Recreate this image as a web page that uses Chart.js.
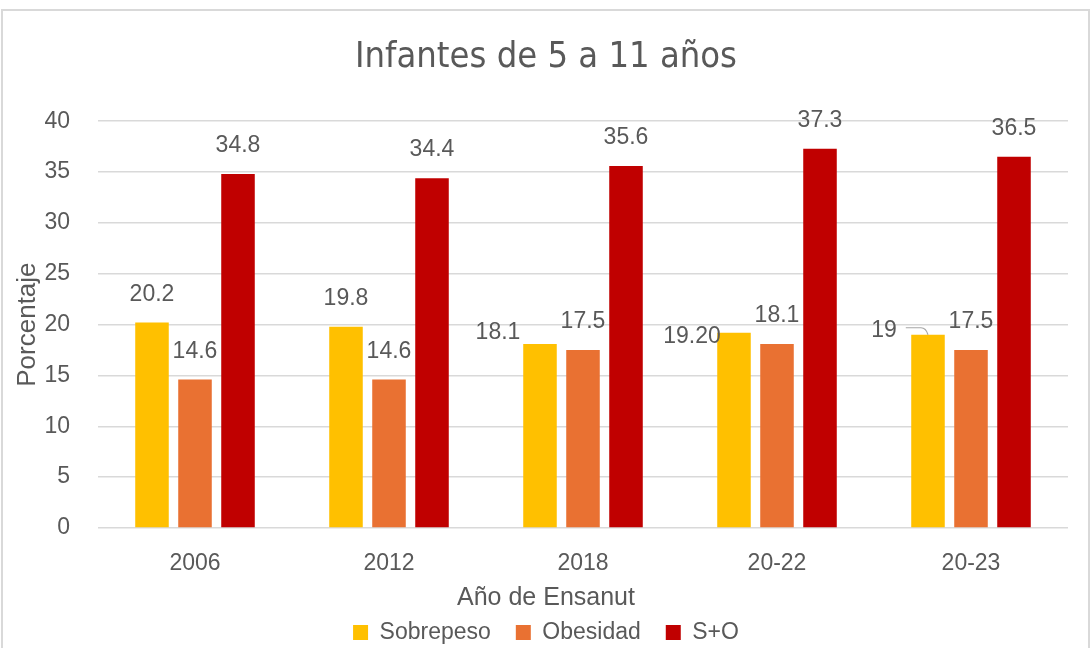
<!DOCTYPE html>
<html><head><meta charset="utf-8">
<script src="https://cdn.jsdelivr.net/npm/chart.js@4.4.1/dist/chart.umd.min.js"></script>
<style>
html,body{margin:0;padding:0;background:#fff;}
#wrap{position:relative;width:1092px;height:648px;overflow:hidden;}
#frame{position:absolute;left:1px;top:9px;width:1089px;height:660px;border:2px solid #d9d9d9;pointer-events:none;box-sizing:border-box;}
canvas{display:block;}
</style></head><body>
<div id="wrap"><canvas id="c" width="1092" height="648"></canvas><div id="frame"></div></div>
<script>
// ---- data ----
const categories = ['2006', '2012', '2018', '20-22', '20-23'];
const seriesNames = ['Sobrepeso', 'Obesidad', 'S+O'];
const sobrepeso = [20.2, 19.8, 18.1, 19.2, 19];
const obesidad = [14.6, 14.6, 17.5, 18.1, 17.5];
const sMasO = [34.8, 34.4, 35.6, 37.3, 36.5];
const sobrepesoLabels = ['20.2', '19.8', '18.1', '19.20', '19'];
const obesidadLabels = ['14.6', '14.6', '17.5', '18.1', '17.5'];
const sMasOLabels = ['34.8', '34.4', '35.6', '37.3', '36.5'];
const titleText = 'Infantes de 5 a 11 años';
const xTitleText = 'Año de Ensanut';
const yTitleText = 'Porcentaje';

// ---- styles ----
const TEXT = '#595959';
const GRID = '#d9d9d9';
const FONT = '"Liberation Sans", Arial, sans-serif';
const colors = ['#FFC000', '#E97132', '#C00000'];

// pick a narrow font for the title, sized to the reference title width (~380px)
function titleFont() {
  const probe = document.createElement('canvas').getContext('2d');
  const candidates = ['"Liberation Sans Narrow"', '"DejaVu Sans Condensed"', '"Liberation Sans"'];
  for (const fam of candidates) {
    probe.font = '40px ' + fam + ', monospace';
    const w1 = probe.measureText(titleText).width;
    probe.font = '40px monospace';
    const w2 = probe.measureText(titleText).width;
    if (Math.abs(w1 - w2) > 0.5) {
      probe.font = '40px ' + fam;
      const w = probe.measureText(titleText).width;
      const size = Math.min(43, Math.round(40 * 380 / w));
      return {family: fam + ', sans-serif', size: size};
    }
  }
  return {family: FONT, size: 36};
}
const TF = titleFont();

// label nudges (pixels) keyed "dataset-index"
const labelNudges = {
  '0-2': {dx: -42, dy: 17},
  '0-3': {dx: -42, dy: 32},
  '0-4': {dx: -44, dy: 24, leader: true}
};

const valueLabels = {
  id: 'valueLabels',
  afterDatasetsDraw(chart) {
    const ctx = chart.ctx;
    ctx.save();
    ctx.font = '23px ' + FONT;
    ctx.fillStyle = TEXT;
    ctx.textAlign = 'center';
    ctx.textBaseline = 'middle';
    chart.data.datasets.forEach((ds, di) => {
      const meta = chart.getDatasetMeta(di);
      meta.data.forEach((bar, i) => {
        const n = labelNudges[di + '-' + i] || {dx: 0, dy: 0};
        const x = bar.x + n.dx;
        const y = bar.y - 28 + n.dy;
        ctx.fillText(ds.valueText[i], x, y);
        if (n.leader) {
          const w = ctx.measureText(ds.valueText[i]).width;
          ctx.save();
          ctx.strokeStyle = '#a6a6a6';
          ctx.lineWidth = 1.2;
          ctx.beginPath();
          ctx.moveTo(x + w / 2 + 9, y - 3);
          ctx.lineTo(bar.x - 7, y - 3);
          ctx.quadraticCurveTo(bar.x - 2, y - 3, bar.x, bar.y);
          ctx.stroke();
          ctx.restore();
        }
      });
    });
    ctx.restore();
  }
};

const titleLine = TF.size * 1.2;
const titleTop = Math.round(58 - titleLine / 2);

new Chart(document.getElementById('c'), {
  type: 'bar',
  data: {
    labels: categories,
    datasets: [
      {label: seriesNames[0], data: sobrepeso, valueText: sobrepesoLabels, backgroundColor: colors[0]},
      {label: seriesNames[1], data: obesidad, valueText: obesidadLabels, backgroundColor: colors[1]},
      {label: seriesNames[2], data: sMasO, valueText: sMasOLabels, backgroundColor: colors[2]}
    ]
  },
  options: {
    responsive: false,
    animation: false,
    devicePixelRatio: 1,
    categoryPercentage: 0.665,
    barPercentage: 0.78,
    layout: {padding: 0},
    plugins: {
      tooltip: {enabled: false},
      title: {
        display: true, text: titleText, color: TEXT,
        font: {family: TF.family, size: TF.size, weight: 'normal'},
        padding: {top: titleTop, bottom: 121.2 - titleTop - titleLine}
      },
      subtitle: {
        display: true, text: xTitleText, color: TEXT, position: 'bottom', weight: 500, fullSize: true,
        font: {family: FONT, size: 25, weight: 'normal'},
        padding: {top: 5, bottom: -17}
      },
      legend: {
        position: 'bottom', maxHeight: 52,
        labels: {boxWidth: 15, boxHeight: 15, padding: 25, color: TEXT, font: {family: FONT, size: 23}}
      }
    },
    scales: {
      x: {
        grid: {display: false, drawTicks: false},
        border: {display: false},
        ticks: {color: TEXT, font: {family: FONT, size: 23}, padding: 22},
        afterFit: s => { s.height = 50; }
      },
      y: {
        min: 0, max: 40,
        ticks: {stepSize: 5, color: TEXT, font: {family: FONT, size: 23}, padding: 28},
        grid: {color: GRID, lineWidth: 1.5, drawTicks: false},
        border: {display: false},
        title: {display: true, text: yTitleText, color: TEXT, font: {family: FONT, size: 26}, padding: {top: 12, bottom: 0}},
        afterFit: s => { s.width = 98; }
      },
      y2: {
        position: 'right', display: true,
        ticks: {display: false},
        grid: {display: false, drawTicks: false},
        border: {display: false},
        afterFit: s => { s.width = 24; }
      }
    }
  },
  plugins: [valueLabels]
});
</script>
</body></html>
